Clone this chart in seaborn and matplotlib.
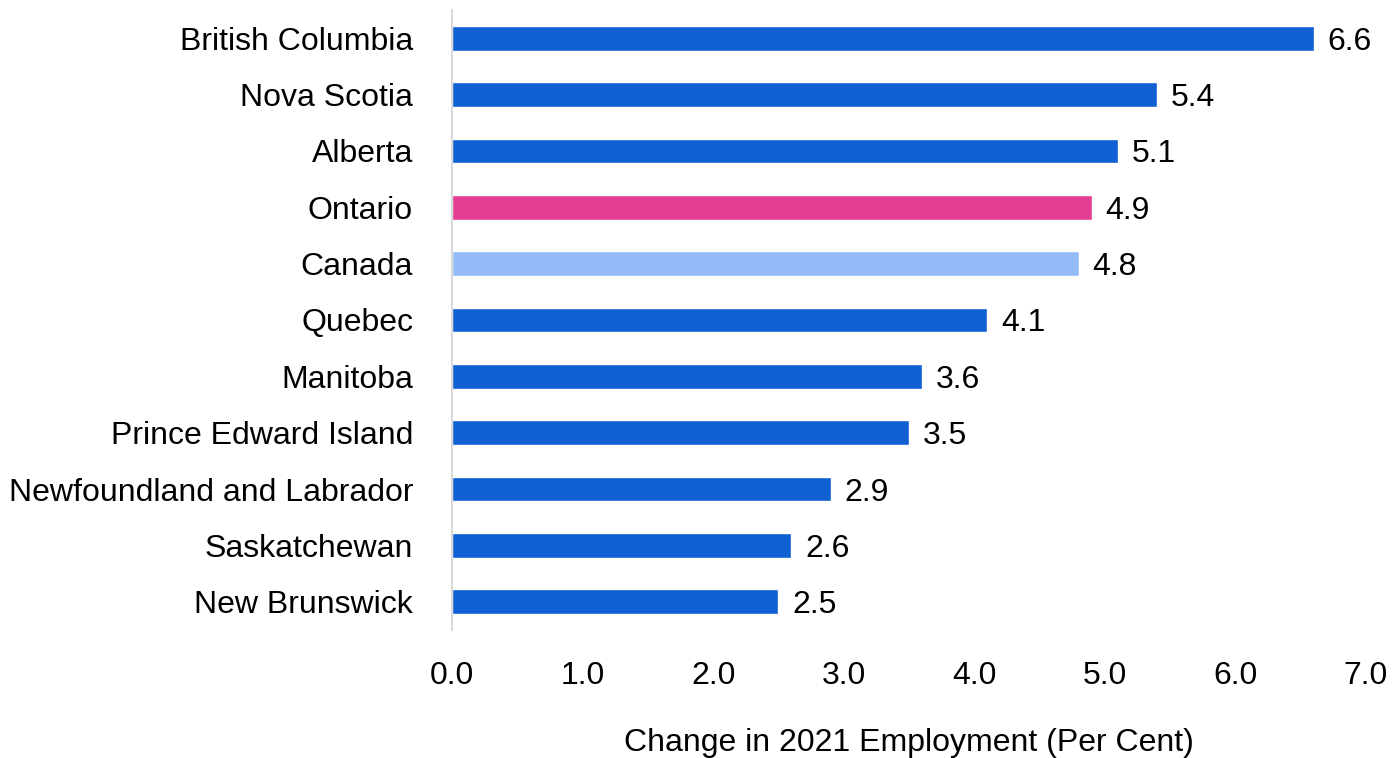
import matplotlib
matplotlib.use("Agg")
import matplotlib.pyplot as plt
import seaborn as sns
import pandas as pd

provinces = ["British Columbia", "Nova Scotia", "Alberta", "Ontario", "Canada",
             "Quebec", "Manitoba", "Prince Edward Island",
             "Newfoundland and Labrador", "Saskatchewan", "New Brunswick"]
change = [6.6, 5.4, 5.1, 4.9, 4.8, 4.1, 3.6, 3.5, 2.9, 2.6, 2.5]
x_ticks = [0, 1, 2, 3, 4, 5, 6, 7]

blue = "#1060D4"
pink = "#E33D94"
light_blue = "#94BBF7"
colors = {p: blue for p in provinces}
colors["Ontario"] = pink
colors["Canada"] = light_blue

df = pd.DataFrame({"province": provinces, "change": change})

sns.set_style("white")
plt.rcParams["font.family"] = ["Liberation Sans", "DejaVu Sans"]
plt.rcParams["text.color"] = "black"
plt.rcParams["xtick.color"] = "black"
plt.rcParams["ytick.color"] = "black"
plt.rcParams["axes.labelcolor"] = "black"

fig = plt.figure(figsize=(13.92, 7.58), dpi=100)
ax = fig.add_axes([0.3247, 0.1689, 0.9813 - 0.3247, 0.9868 - 0.1689])

sns.barplot(data=df, x="change", y="province", hue="province", palette=colors,
            order=provinces, width=0.44, legend=False, ax=ax, saturation=1)

for cont in ax.containers:
    labels = ax.bar_label(cont, fmt="%.1f", padding=10, fontsize=23, color="black")
    for t in labels:
        t.set_va("center_baseline")

ax.set_xlim(0, 7)
ax.set_ylim(10.5, -0.5)
ax.set_xticks(x_ticks)
ax.set_xticklabels([f"{t:.1f}" for t in x_ticks])
ax.tick_params(axis="x", length=0, pad=22, labelsize=23)
ax.tick_params(axis="y", length=0, pad=28, labelsize=23)
ax.set_ylabel("")
ax.set_xlabel("Change in 2021 Employment (Per Cent)", fontsize=23, labelpad=27)

for s in ["top", "right", "bottom"]:
    ax.spines[s].set_visible(False)
ax.spines["left"].set_color("#D9D9D9")
ax.spines["left"].set_linewidth(1.5)

fig.savefig("out.png", dpi=100)
